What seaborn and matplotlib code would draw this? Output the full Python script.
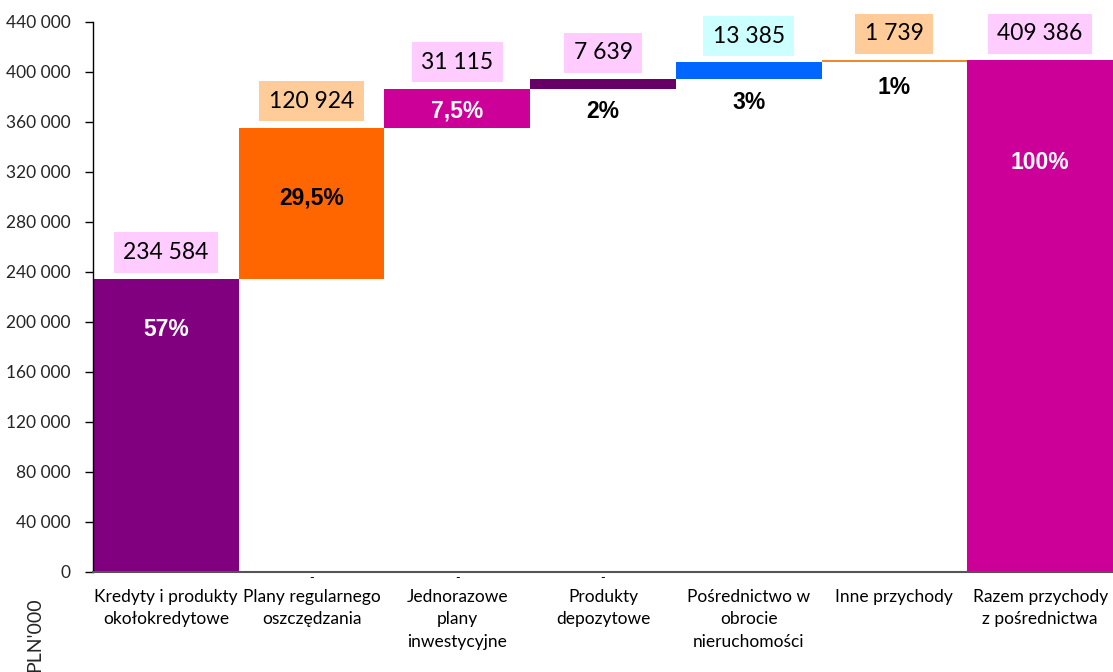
import matplotlib
matplotlib.use("Agg")
import matplotlib.pyplot as plt
import seaborn as sns
import numpy as np
import pandas as pd

# ---- data ----
categories = ["Kredyty i produkty\nokołokredytowe", "Plany regularnego\noszczędzania",
              "Jednorazowe\nplany\ninwestycyjne", "Produkty\ndepozytowe",
              "Pośrednictwo w\nobrocie\nnieruchomości", "Inne przychody",
              "Razem przychody\nz pośrednictwa"]
values = [234584, 120924, 31115, 7639, 13385, 1739, 409386]
is_total = [False, False, False, False, False, False, True]
pct_labels = ["57%", "29,5%", "7,5%", "2%", "3%", "1%", "100%"]
value_labels = ["234 584", "120 924", "31 115", "7 639", "13 385", "1 739", "409 386"]
y_ticks = list(range(0, 440001, 40000))

# ---- styles / layout ----
bar_colors = ["#800080", "#FF6600", "#CC0099", "#660066", "#0066FF", "#F0882C", "#CC0099"]
box_colors = ["#FFCCFF", "#FFCC99", "#FFCCFF", "#FFCCFF", "#CCFFFF", "#FFCC99", "#FFCCFF"]
pct_colors = ["white", "black", "white", "black", "black", "black", "white"]
pct_y = [193600, 299200, 368500, 368000, 375500, 387500, 327500]

# waterfall bottoms
bottoms = []
run = 0
for v, t in zip(values, is_total):
    if t:
        bottoms.append(0)
    else:
        bottoms.append(run)
        run += v
tops = [b + v for b, v in zip(bottoms, values)]

df = pd.DataFrame({"cat": categories, "val": values})

sns.set_theme(style="white")
plt.rcParams["font.family"] = ["Lato", "DejaVu Sans"]

fig = plt.figure(figsize=(11.13, 6.72), dpi=100)
ax = fig.add_axes([93 / 1113, 100 / 672, 1020 / 1113, 550 / 672])

sns.barplot(data=df, x="cat", y="val", hue="cat", palette=bar_colors, order=categories,
            hue_order=categories, dodge=False, width=1.0, legend=False, ax=ax,
            linewidth=0, saturation=1)
for p, b in zip(ax.patches, bottoms):
    p.set_y(b)

ax.set_xlim(-0.5, len(categories) - 0.5)
ax.set_ylim(0, 440000)
ax.set_yticks(y_ticks)
ax.set_yticklabels([f"{t:,}".replace(",", " ") for t in y_ticks], fontsize=12.5)
ax.set_xticks(range(len(categories)))
ax.set_xticklabels(categories, fontsize=12.5, linespacing=1.5, va="top")
ax.set_xticks(np.arange(0.5, len(categories) - 1, 1.0), minor=True)
ax.tick_params(axis="x", which="major", length=0, pad=12, colors="black")
ax.tick_params(axis="x", which="minor", length=5, width=1, color="#555555", direction="out")
ax.tick_params(axis="y", length=6, width=1, color="black", direction="out", pad=10, left=True)
ax.set_xlabel("")
ax.set_ylabel("")
for s in ["top", "right"]:
    ax.spines[s].set_visible(False)
ax.spines["left"].set_color("black")
ax.spines["left"].set_linewidth(1)
ax.spines["bottom"].set_color("#555555")
ax.spines["bottom"].set_linewidth(1.5)

for i in range(len(categories)):
    ax.annotate(value_labels[i], xy=(i, tops[i]), xytext=(0, 19), textcoords="offset points",
                ha="center", va="center", fontsize=16.5, color="black",
                bbox=dict(boxstyle="square,pad=0.42", facecolor=box_colors[i], edgecolor="none"))
    ax.text(i, pct_y[i], pct_labels[i], ha="center", va="center", fontsize=16.5,
            fontweight="bold", color=pct_colors[i], family=["Liberation Sans", "DejaVu Sans"])

for i in [1, 2, 3]:
    ax.annotate("-", xy=(i, 0), xytext=(0, -4), textcoords="offset points",
                ha="center", va="center", fontsize=9, color="black")

fig.text(35 / 1113, (672 - 597) / 672, "PLN'000", rotation=90, ha="center", va="top",
         fontsize=14)

fig.savefig("out.png", dpi=100)
